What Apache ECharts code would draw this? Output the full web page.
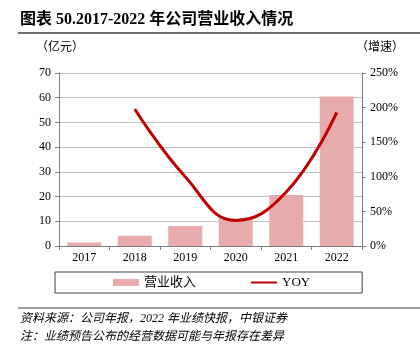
<!DOCTYPE html>
<html>
<head>
<meta charset="utf-8">
<script src="https://cdn.jsdelivr.net/npm/echarts@6/dist/echarts.min.js"></script>
<style>
  html, body { margin: 0; padding: 0; background: #fff; }
  #chart { width: 420px; height: 353px; }
</style>
</head>
<body>
<div id="chart"></div>
<script>
// 年份
const years = ['2017', '2018', '2019', '2020', '2021', '2022'];
// 营业收入（亿元）
const revenue = [1.4, 4.1, 8.1, 11.1, 20.6, 60.5];
// 同比增速（小数）
const yoy = [null, 1.98, 1.00, 0.37, 0.78, 1.93];

const serif = '"Liberation Serif", "Noto Sans CJK SC", serif';

const chart = echarts.init(document.getElementById('chart'));

const option = {
    animation: false,
    graphic: [
        // 标题
        { type: 'text', left: 20, top: 12, style: { text: '图表 50.2017-2022 年公司营业收入情况', font: 'bold 16px ' + serif, fill: '#000' } },
        { type: 'line', shape: { x1: 18, y1: 33, x2: 420, y2: 33 }, style: { stroke: '#404040', lineWidth: 1.5 } },
        // 单位
        { type: 'text', left: 36, top: 42, style: { text: '（亿元）', font: '12px ' + serif, fill: '#000' } },
        { type: 'text', left: 356, top: 42, style: { text: '（增速）', font: '12px ' + serif, fill: '#000' } },
        // 底部注释
        { type: 'line', shape: { x1: 18, y1: 308, x2: 420, y2: 308 }, style: { stroke: '#404040', lineWidth: 1 } },
        { type: 'text', left: 20, top: 313, style: { text: '资料来源：公司年报，2022 年业绩快报，中银证券', font: 'italic 12px ' + serif, fill: '#000' } },
        { type: 'text', left: 20, top: 331, style: { text: '注：业绩预告公布的经营数据可能与年报存在差异', font: 'italic 12px ' + serif, fill: '#000' } }
    ],
    legend: {
        left: 55,
        top: 272,
        padding: [4, 52, 4, 58],
        itemGap: 55,
        itemWidth: 26,
        itemHeight: 7,
        borderColor: '#404040',
        borderWidth: 1,
        textStyle: { fontFamily: serif, fontSize: 13, color: '#000' },
        data: [
            { name: '营业收入', icon: 'rect' },
            { name: 'YOY', icon: 'path://M0,0 L0.01,0 M0,2.5 L28,2.5 L28,4.5 L0,4.5 Z M0,7 L0.01,7' }
        ]
    },
    grid: { left: 59, right: 58, top: 73, bottom: 107 },
    xAxis: {
        type: 'category',
        data: years,
        axisLine: { lineStyle: { color: '#808080' } },
        axisTick: { show: true, length: 4, lineStyle: { color: '#808080' } },
        axisLabel: { fontFamily: serif, fontSize: 12, color: '#000', margin: 6 }
    },
    yAxis: [
        {
            type: 'value',
            min: 0, max: 70, interval: 10,
            axisLine: { show: true, lineStyle: { color: '#808080' } },
            axisTick: { show: true, length: 4, lineStyle: { color: '#808080' } },
            axisLabel: { fontFamily: serif, fontSize: 12, color: '#000', margin: 8 },
            splitLine: { lineStyle: { color: '#BFBFBF' } }
        },
        {
            type: 'value',
            min: 0, max: 2.5, interval: 0.5,
            axisLine: { show: true, lineStyle: { color: '#808080' } },
            axisTick: { show: true, length: 4, lineStyle: { color: '#808080' } },
            axisLabel: {
                fontFamily: serif, fontSize: 12, color: '#000', margin: 8,
                formatter: v => Math.round(v * 100) + '%'
            },
            splitLine: { show: false }
        }
    ],
    series: [
        {
            name: '营业收入',
            type: 'bar',
            data: revenue,
            barWidth: 34,
            itemStyle: { color: '#E8ABAB' }
        },
        {
            name: 'YOY',
            type: 'line',
            yAxisIndex: 1,
            data: yoy,
            smooth: 0.45,
            showSymbol: false,
            symbol: 'none',
            lineStyle: { color: '#C00000', width: 3 },
            itemStyle: { color: '#C00000' }
        }
    ]
};

chart.setOption(option);
</script>
</body>
</html>
